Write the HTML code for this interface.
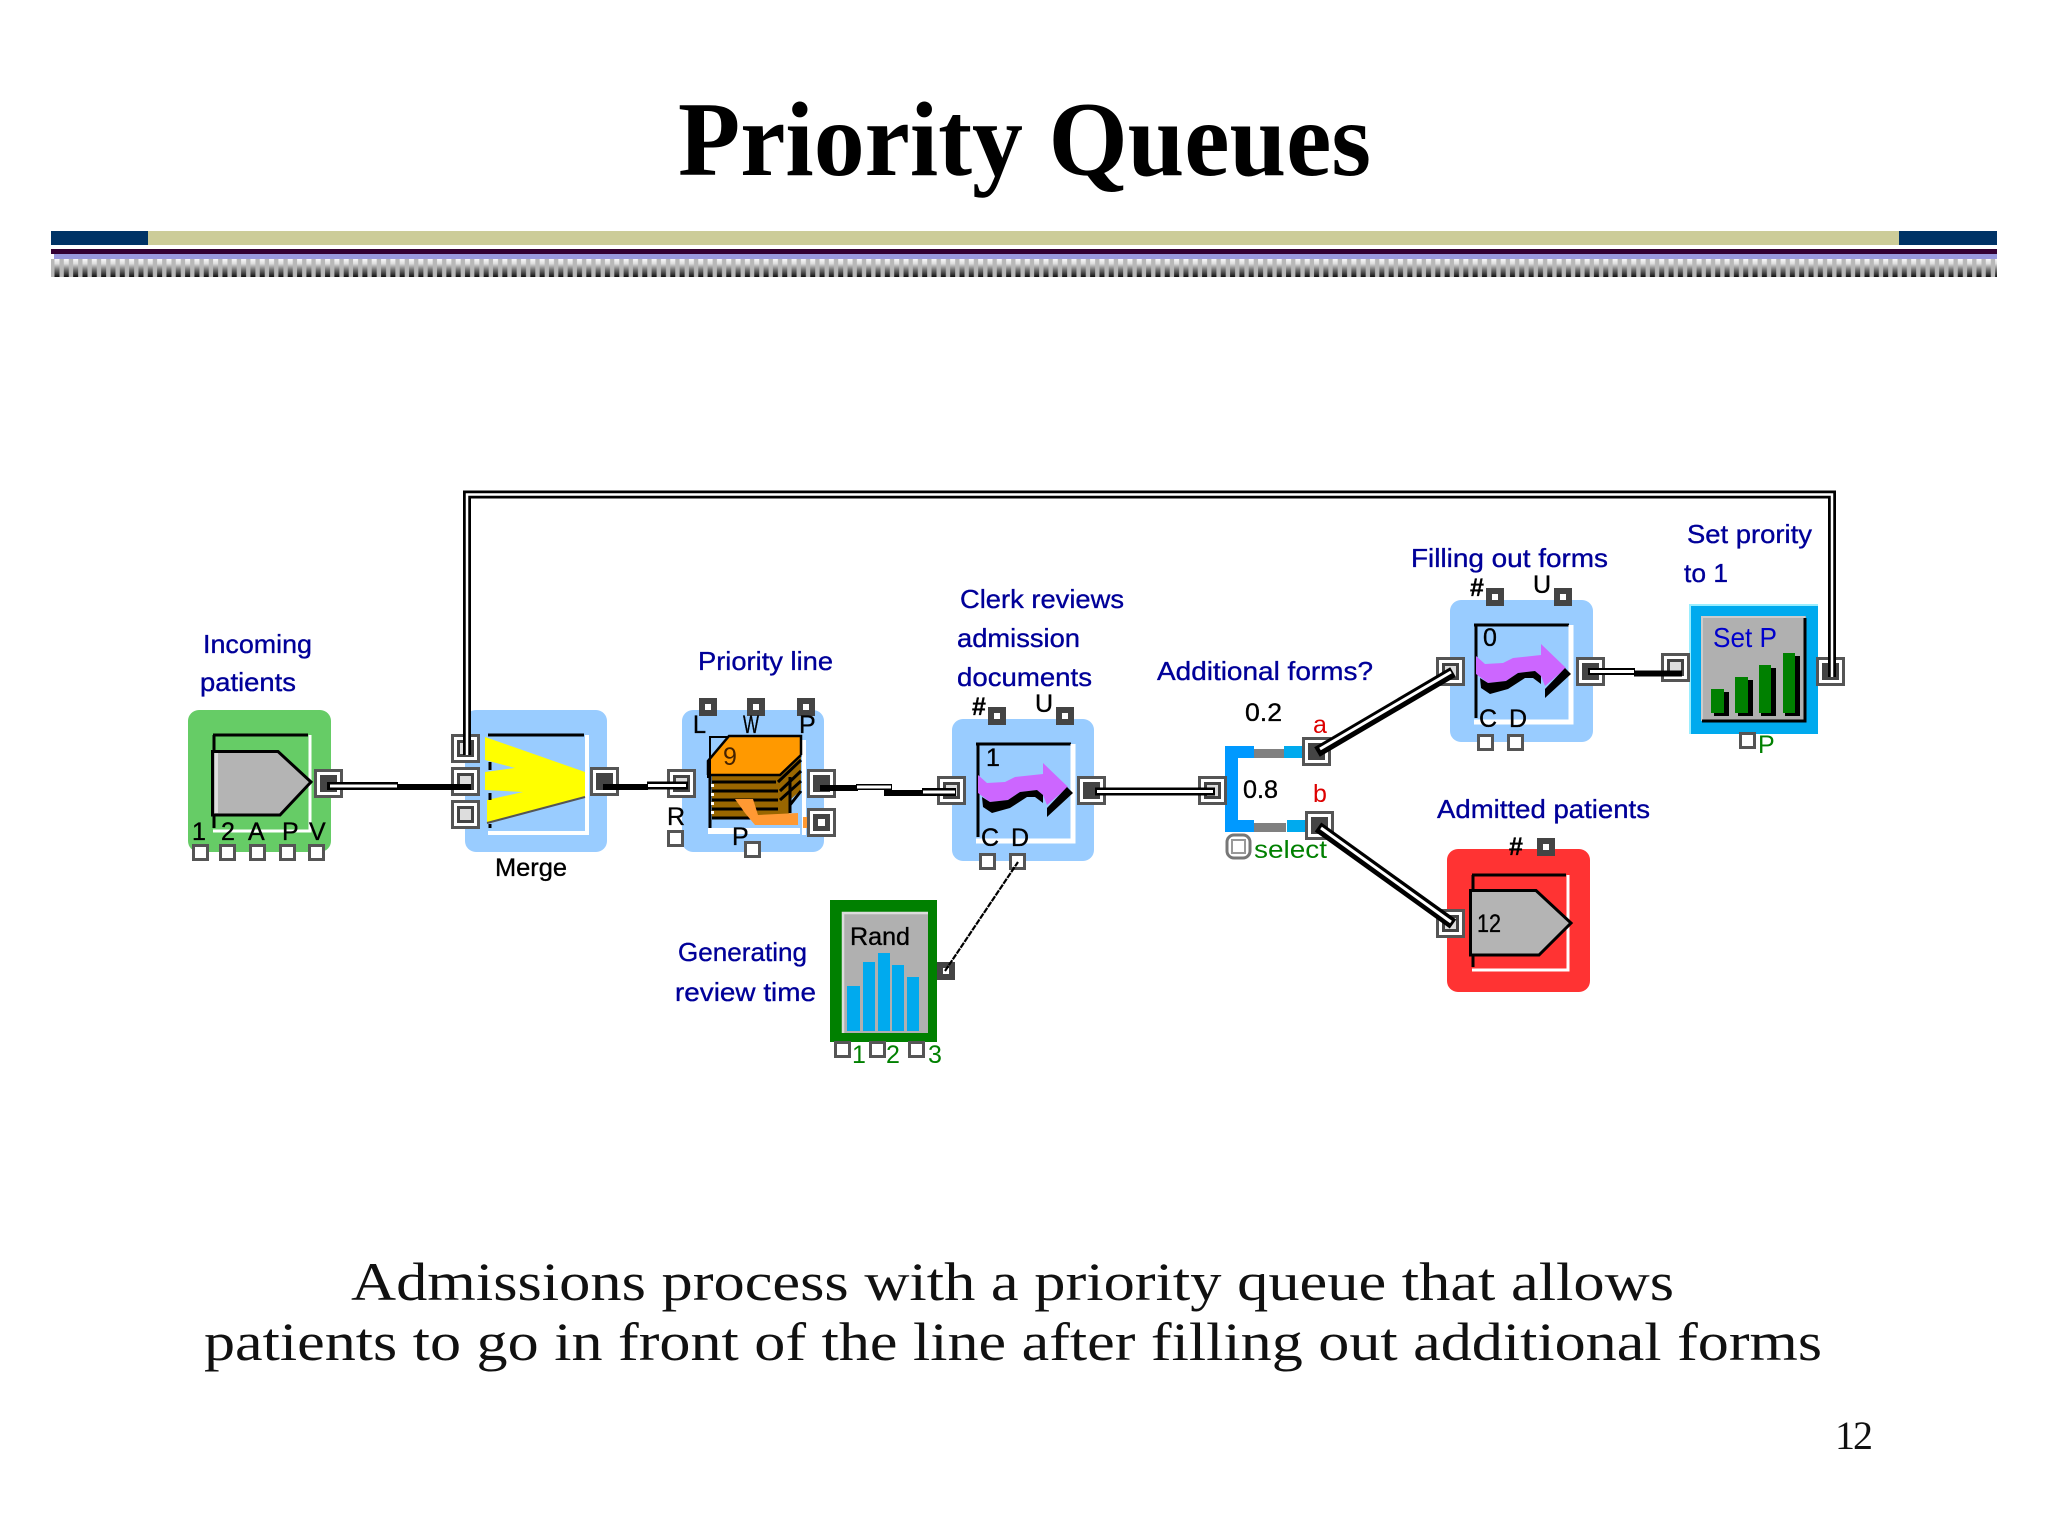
<!DOCTYPE html>
<html lang="en">
<head>
<meta charset="utf-8">
<title>Priority Queues</title>
<style>
html,body{margin:0;padding:0;background:#fff;width:2048px;height:1536px;overflow:hidden}
svg{display:block}
.s{font-family:"Liberation Sans",sans-serif}
.t{font-family:"Liberation Serif",serif}
.bl{fill:#000099;stroke:#000099;stroke-width:.35px;font-size:26px}
.k{fill:#000;stroke:#000;stroke-width:.35px;font-size:25px}
.g{fill:#008000;font-size:25px}
.r{fill:#dd0000;font-size:25px}
</style>
</head>
<body>
<svg xmlns="http://www.w3.org/2000/svg" width="2048" height="1536" viewBox="0 0 2048 1536">
<defs>
<pattern id="st" x="51" y="258" width="9.33" height="19" patternUnits="userSpaceOnUse">
<rect width="9.33" height="19" fill="#b8b8b8"/>
<rect x="3.5" width="5" height="19" fill="url(#gr)"/>
</pattern>
<linearGradient id="gr" x1="0" y1="0" x2="0" y2="1">
<stop offset="0" stop-color="#fff"/><stop offset=".3" stop-color="#ddd"/><stop offset=".6" stop-color="#777"/><stop offset="1" stop-color="#111"/>
</linearGradient>
<g id="pi"><rect x="1.5" y="1.5" width="26" height="26" fill="#fff" stroke="#555" stroke-width="3"/><rect x="7.5" y="7.5" width="14" height="14" fill="#ddd" stroke="#444" stroke-width="3"/></g>
<g id="po"><rect x="1.5" y="1.5" width="26" height="26" fill="#fff" stroke="#555" stroke-width="3"/><rect x="6" y="6" width="17" height="17" fill="#444"/></g>
<g id="bx"><rect x="1.5" y="1.5" width="14" height="14" fill="#fff" stroke="#555" stroke-width="3"/></g>
<g id="dk"><rect width="18" height="18" fill="#444"/><rect x="6" y="6" width="6" height="6" fill="#fff"/></g>
<g id="arrow">
<polygon points="978,775 987,783 1005,782 1015,777 1043,774 1043,763 1068,787 1047,805 1043,795 1037,790 1020,792 1008,800 990,802 978,793" fill="#cc66ff"/>
<polygon points="982,797 990,802 1008,800 1020,792 1037,790 1043,795 1043,803 1035,797 1027,797 1010,808 992,813 983,807" fill="#000"/>
<polygon points="1047,808 1067,787 1073,793 1047,817" fill="#000"/>
</g>
<g id="pent">
<polygon points="212.500,751.500 278,751.500 311,782 280,815 212.500,815" fill="#b4b4b4" stroke="#000" stroke-width="3"/>
<rect x="215" y="753" width="3" height="60" fill="#ddd"/>
</g>
</defs>

<!-- header -->
<text class="t" x="678" y="175" font-size="106" font-weight="bold" textLength="693" lengthAdjust="spacingAndGlyphs" fill="#000">Priority Queues</text>
<rect x="51" y="231" width="1946" height="14" fill="#cccc99"/>
<rect x="51" y="231" width="97" height="14" fill="#003366"/>
<rect x="1899" y="231" width="98" height="14" fill="#003366"/>
<rect x="51" y="249" width="1946" height="5" fill="#330033"/>
<rect x="54" y="254" width="1943" height="5" fill="#9999dd"/>
<rect x="51" y="259" width="1946" height="18" fill="url(#st)"/>

<!-- Incoming node -->
<rect x="188" y="710" width="143" height="142" rx="11" fill="#66cc66"/>
<path d="M213,735H308" stroke="#000" stroke-width="3" fill="none"/>
<path d="M310,735V831H213" stroke="#fff" stroke-width="3" fill="none"/>
<path d="M214,735V828" stroke="#000" stroke-width="3" fill="none"/>
<use href="#pent"/>
<text class="s k" x="192" y="840" textLength="12">1</text>
<text class="s k" x="221" y="840" textLength="13">2</text>
<text class="s k" x="248" y="840" textLength="16">A</text>
<text class="s k" x="282" y="840" textLength="14">P</text>
<text class="s k" x="309" y="840" textLength="16">V</text>
<use href="#bx" x="192" y="844"/><use href="#bx" x="219" y="844"/><use href="#bx" x="249" y="844"/><use href="#bx" x="279" y="844"/><use href="#bx" x="308" y="844"/>
<use href="#po" x="314" y="769"/>
<text class="s bl" x="203" y="653" textLength="109" lengthAdjust="spacingAndGlyphs">Incoming</text>
<text class="s bl" x="200" y="691" textLength="96" lengthAdjust="spacingAndGlyphs">patients</text>

<!-- Merge node -->
<rect x="465" y="710" width="142" height="142" rx="11" fill="#99ccff"/>
<path d="M488,735H584" stroke="#000" stroke-width="3" fill="none"/>
<path d="M587,735V833H488" stroke="#fff" stroke-width="4" fill="none"/>
<polygon points="485,737 585,772 585,797 487,823 487,800 523,792 485,790 485,772 515,768 485,760" fill="#ffff00"/>
<path d="M487,823L585,797" stroke="#555" stroke-width="2" fill="none"/>
<path d="M490,762V770M490,793V800M490,824V828" stroke="#000" stroke-width="3" fill="none"/>
<use href="#pi" x="451" y="734"/><use href="#pi" x="451" y="767"/><use href="#pi" x="451" y="800"/>
<use href="#po" x="590" y="767"/>
<text class="s k" x="495" y="876" textLength="72" lengthAdjust="spacingAndGlyphs" font-size="26">Merge</text>

<!-- Priority line node -->
<rect x="682" y="710" width="142" height="142" rx="11" fill="#99ccff"/>
<rect x="802" y="740" width="4" height="95" fill="#fff"/>
<rect x="708" y="828" width="92" height="6" fill="#fff"/>
<polygon points="712,775 780,775 801,755 801,790 790,800 790,813 776,818 712,818" fill="#996600"/>
<path d="M712,782H776M712,791H778M712,800H778M712,809H778M712,818H776M778,782L801,760M780,791L801,771M780,800L801,781M790,805L801,791M790,777V813" stroke="#000" stroke-width="3" fill="none"/>
<polygon points="708,761 729,736 801,736 801,755 780,775 708,775" fill="#ff9900"/>
<path d="M708,775V761L729,736H801V755M708,775H780L801,755" stroke="#000" stroke-width="2.500" fill="none"/>
<path d="M709,737H728M710,737V762" stroke="#000" stroke-width="2" fill="none"/>
<path d="M709,760V778" stroke="#000" stroke-width="4" fill="none"/>
<path d="M710,775V828" stroke="#000" stroke-width="3" fill="none"/>
<polygon points="735,799 753,799 758,815 798,813 798,825 755,825 745,813" fill="#ff9933"/>
<rect x="803" y="817" width="4" height="11" fill="#ff9933"/>
<g fill="#fff"><rect x="711" y="784" width="3" height="3"/><rect x="711" y="793" width="3" height="3"/><rect x="711" y="802" width="3" height="3"/><rect x="711" y="811" width="3" height="3"/></g>
<text class="s" x="723" y="765" font-size="25" fill="#442200" textLength="13">9</text>
<use href="#dk" x="699" y="698"/><use href="#dk" x="747" y="698"/><use href="#dk" x="797" y="698"/>
<text class="s k" x="693" y="733" textLength="13" lengthAdjust="spacingAndGlyphs">L</text>
<text class="s k" x="743" y="733" textLength="16" lengthAdjust="spacingAndGlyphs">W</text>
<text class="s k" x="799" y="733" textLength="13">P</text>
<use href="#pi" x="667" y="769"/>
<use href="#po" x="807" y="769"/>
<use href="#po" x="807" y="808"/><rect x="818" y="819" width="7" height="7" fill="#fff"/>
<text class="s k" x="667" y="825" textLength="16">R</text>
<use href="#bx" x="667" y="830"/>
<text class="s k" x="732" y="845" textLength="13">P</text>
<use href="#bx" x="744" y="841"/>
<text class="s bl" x="698" y="670" textLength="135" lengthAdjust="spacingAndGlyphs">Priority line</text>

<!-- Clerk node -->
<rect x="952" y="719" width="142" height="142" rx="11" fill="#99ccff"/>
<path d="M976,744H1071" stroke="#000" stroke-width="3" fill="none"/>
<path d="M1073,744V841H976" stroke="#fff" stroke-width="5" fill="none"/>
<path d="M978,744V837" stroke="#000" stroke-width="3" fill="none"/>
<use href="#arrow"/>
<text class="s k" x="986" y="766" textLength="10">1</text>
<text class="s k" x="981" y="846" textLength="16">C</text>
<text class="s k" x="1011" y="846" textLength="16">D</text>
<use href="#bx" x="979" y="853"/><use href="#bx" x="1009" y="853"/>
<use href="#dk" x="988" y="707"/><use href="#dk" x="1056" y="707"/>
<text class="s k" x="972" y="715" textLength="14" font-weight="bold">#</text>
<text class="s k" x="1035" y="712" textLength="15">U</text>
<use href="#pi" x="937" y="776"/><use href="#po" x="1077" y="776"/>
<text class="s bl" x="960" y="608" textLength="164" lengthAdjust="spacingAndGlyphs">Clerk reviews</text>
<text class="s bl" x="957" y="647" textLength="123" lengthAdjust="spacingAndGlyphs">admission</text>
<text class="s bl" x="957" y="686" textLength="135" lengthAdjust="spacingAndGlyphs">documents</text>

<!-- Rand node -->
<rect x="830" y="900" width="107" height="142" fill="#008000"/>
<rect x="842" y="912" width="86" height="121" fill="#b0b0b0"/>
<path d="M843,1033V913H928" stroke="#ddd" stroke-width="2.500" fill="none"/>
<g fill="#00aaee">
<rect x="847" y="986" width="13" height="45"/><rect x="863" y="962" width="12" height="69"/><rect x="878" y="953" width="12" height="78"/><rect x="892" y="965" width="12" height="66"/><rect x="907" y="977" width="12" height="54"/>
</g>
<text class="s k" x="850" y="945" textLength="60" lengthAdjust="spacingAndGlyphs" font-size="27">Rand</text>
<use href="#dk" x="937" y="962"/>
<path d="M945,971L1018,862" stroke="#000" stroke-width="2.200" stroke-dasharray="6 1" fill="none"/>
<use href="#bx" x="834" y="1041"/><use href="#bx" x="869" y="1041"/><use href="#bx" x="908" y="1041"/>
<text class="s g" x="852" y="1063" textLength="10">1</text>
<text class="s g" x="886" y="1063" textLength="13">2</text>
<text class="s g" x="928" y="1063" textLength="13">3</text>
<text class="s bl" x="678" y="961" textLength="129" lengthAdjust="spacingAndGlyphs">Generating</text>
<text class="s bl" x="675" y="1001" textLength="141" lengthAdjust="spacingAndGlyphs">review time</text>

<!-- Select node -->
<rect x="1225" y="746" width="13" height="86" fill="#0099ff"/>
<rect x="1225" y="746" width="29" height="12" fill="#0099ff"/>
<rect x="1225" y="820" width="29" height="12" fill="#0099ff"/>
<rect x="1254" y="749" width="30" height="9" fill="#808080"/>
<rect x="1254" y="823" width="32" height="9" fill="#808080"/>
<rect x="1284" y="746" width="23" height="12" fill="#00aaee"/>
<rect x="1287" y="820" width="23" height="12" fill="#00aaee"/>
<text class="s k" x="1245" y="721" textLength="37" lengthAdjust="spacingAndGlyphs">0.2</text>
<text class="s k" x="1243" y="798" textLength="35" lengthAdjust="spacingAndGlyphs">0.8</text>
<text class="s r" x="1313" y="733" textLength="14">a</text>
<text class="s r" x="1313" y="802" textLength="14">b</text>
<use href="#pi" x="1198" y="776"/>
<use href="#po" x="1302" y="737"/><use href="#po" x="1305" y="811"/>
<rect x="1227" y="835" width="23" height="23" rx="7" fill="#fff" stroke="#777" stroke-width="3"/>
<rect x="1232" y="840" width="13" height="13" fill="#fff" stroke="#999" stroke-width="2"/>
<text class="s g" x="1254" y="858" textLength="73" lengthAdjust="spacingAndGlyphs">select</text>
<text class="s bl" x="1157" y="680" textLength="216" lengthAdjust="spacingAndGlyphs">Additional forms?</text>

<!-- Filling node -->
<rect x="1450" y="600" width="143" height="142" rx="11" fill="#99ccff"/>
<path d="M1474,625H1569" stroke="#000" stroke-width="3" fill="none"/>
<path d="M1571,625V722H1474" stroke="#fff" stroke-width="5" fill="none"/>
<path d="M1476,625V718" stroke="#000" stroke-width="3" fill="none"/>
<use href="#arrow" x="498" y="-119"/>
<text class="s k" x="1483" y="646" textLength="15">0</text>
<text class="s k" x="1479" y="727" textLength="16">C</text>
<text class="s k" x="1509" y="727" textLength="16">D</text>
<use href="#bx" x="1477" y="734"/><use href="#bx" x="1507" y="734"/>
<use href="#dk" x="1486" y="588"/><use href="#dk" x="1554" y="588"/>
<text class="s k" x="1470" y="596" textLength="14" font-weight="bold">#</text>
<text class="s k" x="1533" y="593" textLength="15">U</text>
<use href="#pi" x="1436" y="657"/><use href="#po" x="1576" y="657"/>
<text class="s bl" x="1411" y="567" textLength="197" lengthAdjust="spacingAndGlyphs">Filling out forms</text>

<!-- Admitted node -->
<rect x="1447" y="849" width="143" height="143" rx="11" fill="#ff3333"/>
<path d="M1472,875H1566" stroke="#000" stroke-width="3" fill="none"/>
<path d="M1568,875V970H1472" stroke="#fff" stroke-width="3" fill="none"/>
<path d="M1473,875V967" stroke="#000" stroke-width="3" fill="none"/>
<polygon points="1470.500,890.500 1536,890.500 1571,923 1539,955 1470.500,955" fill="#b4b4b4" stroke="#000" stroke-width="3"/>
<text class="s k" x="1477" y="932" textLength="24" lengthAdjust="spacingAndGlyphs">12</text>
<use href="#dk" x="1537" y="838"/>
<text class="s k" x="1509" y="855" textLength="14" font-weight="bold">#</text>
<use href="#pi" x="1436" y="909"/>
<text class="s bl" x="1437" y="818" textLength="213" lengthAdjust="spacingAndGlyphs">Admitted patients</text>

<!-- Set P node -->
<rect x="1690" y="605" width="128" height="129" fill="#00aaee"/>
<path d="M1690,734V605H1818" stroke="#99eeff" stroke-width="2" fill="none"/>
<rect x="1701" y="616" width="105" height="105" fill="#b0b0b0"/>
<path d="M1702,721V617H1805" stroke="#ccc" stroke-width="2" fill="none"/>
<path d="M1805,618V721H1702" stroke="#000" stroke-width="3" fill="none"/>
<g fill="#000"><rect x="1714" y="692" width="15" height="24"/><rect x="1738" y="680" width="15" height="36"/><rect x="1761" y="668" width="15" height="48"/><rect x="1785" y="656" width="15" height="60"/></g>
<g fill="#008000"><rect x="1711" y="689" width="13" height="24"/><rect x="1735" y="677" width="13" height="36"/><rect x="1759" y="665" width="12" height="48"/><rect x="1783" y="653" width="12" height="60"/></g>
<text class="s" x="1713" y="647" font-size="28" fill="#0000cc" textLength="64" lengthAdjust="spacingAndGlyphs">Set P</text>
<use href="#pi" x="1661" y="653"/><use href="#po" x="1816" y="657"/>
<use href="#bx" x="1739" y="732"/>
<text class="s g" x="1758" y="753" textLength="14">P</text>
<text class="s bl" x="1687" y="543" textLength="125" lengthAdjust="spacingAndGlyphs">Set prority</text>
<text class="s bl" x="1684" y="582" textLength="44" lengthAdjust="spacingAndGlyphs">to 1</text>

<!-- connectors -->
<g fill="none">
<path d="M327,786H398" stroke="#000" stroke-width="8"/><path d="M330,786H397" stroke="#fff" stroke-width="3"/>
<path d="M397,787H471" stroke="#000" stroke-width="6"/>
<path d="M467,755V494.500H1832V677" stroke="#000" stroke-width="8" stroke-linejoin="miter"/><path d="M467,755V494.500H1832V677" stroke="#fff" stroke-width="2.500"/>
<path d="M603,787H648" stroke="#000" stroke-width="6"/>
<path d="M647,785.500H688" stroke="#000" stroke-width="8"/><path d="M648,785.500H686" stroke="#fff" stroke-width="3"/>
<path d="M820,788H858" stroke="#000" stroke-width="6"/>
<path d="M856,787H892" stroke="#000" stroke-width="6"/><path d="M857,787H891" stroke="#fff" stroke-width="3"/>
<path d="M884,793H925" stroke="#000" stroke-width="6"/>
<path d="M922,792H956" stroke="#000" stroke-width="8"/><path d="M923,792H955" stroke="#fff" stroke-width="3"/>
<path d="M1095,791.500H1215" stroke="#000" stroke-width="8"/><path d="M1097,791.500H1213" stroke="#fff" stroke-width="3"/>
<path d="M1317,752L1453,672" stroke="#000" stroke-width="11"/><path d="M1320,749L1451,672" stroke="#fff" stroke-width="3"/>
<path d="M1318,827L1453,924" stroke="#000" stroke-width="11"/><path d="M1321,828L1451,922" stroke="#fff" stroke-width="3"/>
<path d="M1588,671.500H1635" stroke="#000" stroke-width="7"/><path d="M1590,671.500H1634" stroke="#fff" stroke-width="3"/>
<path d="M1634,673.500H1682" stroke="#000" stroke-width="6"/>
</g>

<!-- caption -->
<text class="t" x="351" y="1300" font-size="54" fill="#111" textLength="1323" lengthAdjust="spacingAndGlyphs">Admissions process with a priority queue that allows</text>
<text class="t" x="204" y="1360" font-size="54" fill="#111" textLength="1618" lengthAdjust="spacingAndGlyphs">patients to go in front of the line after filling out additional forms</text>
<text class="t" x="1835" y="1449" font-size="40" fill="#111" textLength="38">12</text>
</svg>
</body>
</html>
